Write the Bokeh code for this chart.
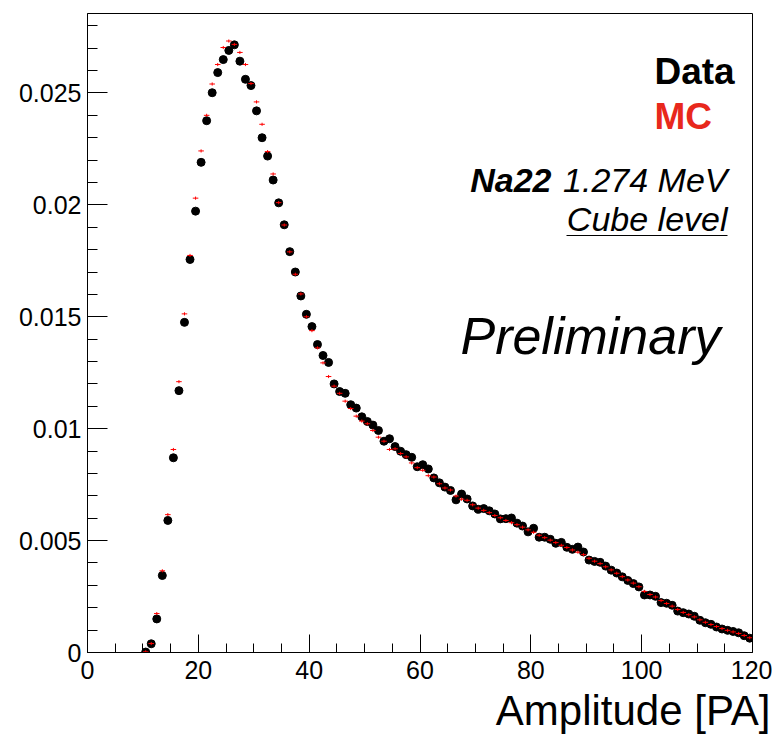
from bokeh.plotting import figure
from bokeh.models import FixedTicker, Label, Range1d, ColumnDataSource, Title
from bokeh.embed import file_html
from bokeh.resources import INLINE

# ---- data (bins of 1 PA, first bin starts at 10 PA) ----
bin_start = 10.0
bin_width = 1.0

data_y = [0.00002, 0.00039, 0.00150, 0.00344, 0.00590, 0.00870, 0.01170, 0.01475, 0.01756, 0.01972,
          0.02190, 0.02376, 0.02501, 0.02591, 0.02649, 0.02690, 0.02715, 0.02642, 0.02561, 0.02533,
          0.02420, 0.02300, 0.02218, 0.02111, 0.02009, 0.01911, 0.01791, 0.01700, 0.01593, 0.01511,
          0.01456, 0.01376, 0.01327, 0.01296, 0.01200, 0.01166, 0.01158, 0.01107, 0.01092, 0.01053,
          0.01032, 0.01016, 0.00992, 0.00944, 0.00955, 0.00920, 0.00899, 0.00884, 0.00872, 0.00830,
          0.00839, 0.00820, 0.00780, 0.00758, 0.00739, 0.00724, 0.00682, 0.00708, 0.00686, 0.00655,
          0.00640, 0.00643, 0.00633, 0.00619, 0.00597, 0.00598, 0.00601, 0.00578, 0.00565, 0.00539,
          0.00555, 0.00515, 0.00515, 0.00506, 0.00488, 0.00492, 0.00470, 0.00461, 0.00471, 0.00449,
          0.00413, 0.00407, 0.00403, 0.00386, 0.00368, 0.00355, 0.00338, 0.00322, 0.00308, 0.00293,
          0.00257, 0.00257, 0.00251, 0.00223, 0.00220, 0.00211, 0.00185, 0.00178, 0.00172, 0.00162,
          0.00144, 0.00133, 0.00126, 0.00114, 0.00105, 0.00099, 0.00094, 0.00088, 0.00075, 0.00064]

mc_y = [0.00003, 0.00040, 0.00174, 0.00365, 0.00616, 0.00907, 0.01210, 0.01513, 0.01774, 0.02030,
        0.02241, 0.02400, 0.02540, 0.02627, 0.02703, 0.02732, 0.02717, 0.02681, 0.02627, 0.02542,
        0.02460, 0.02360, 0.02238, 0.02138, 0.02010, 0.01910, 0.01790, 0.01690, 0.01602, 0.01500,
        0.01438, 0.01361, 0.01294, 0.01233, 0.01190, 0.01158, 0.01123, 0.01090, 0.01056, 0.01034,
        0.01022, 0.00992, 0.00962, 0.00944, 0.00907, 0.00910, 0.00889, 0.00874, 0.00847, 0.00826,
        0.00814, 0.00790, 0.00784, 0.00754, 0.00735, 0.00726, 0.00699, 0.00685, 0.00680, 0.00660,
        0.00645, 0.00635, 0.00625, 0.00612, 0.00602, 0.00590, 0.00580, 0.00571, 0.00560, 0.00548,
        0.00537, 0.00524, 0.00513, 0.00502, 0.00491, 0.00479, 0.00469, 0.00458, 0.00448, 0.00437,
        0.00421, 0.00408, 0.00397, 0.00383, 0.00369, 0.00354, 0.00339, 0.00324, 0.00310, 0.00294,
        0.00273, 0.00259, 0.00248, 0.00232, 0.00219, 0.00207, 0.00192, 0.00179, 0.00169, 0.00159,
        0.00146, 0.00135, 0.00125, 0.00116, 0.00107, 0.00099, 0.00092, 0.00085, 0.00076, 0.00066]
mc_err = 0.00007

x_ticks = [0, 20, 40, 60, 80, 100, 120]
x_minor = [v for v in range(0, 121, 5) if v % 20]
y_ticks = [0, 0.005, 0.01, 0.015, 0.02, 0.025]
y_tick_labels = ["0", "0.005", "0.01", "0.015", "0.02", "0.025"]
y_minor = [i / 1000 for i in range(0, 29) if i % 5]
x_title = "Amplitude [PA]"

X_START, X_END = 0, 120
Y_START, Y_END = 0, 0.02855

centers = [bin_start + bin_width * (i + 0.5) for i in range(len(data_y))]
x_lo = [c - bin_width / 2 for c in centers]
x_hi = [c + bin_width / 2 for c in centers]
mc_lo = [v - mc_err for v in mc_y]
mc_hi = [v + mc_err for v in mc_y]
src = ColumnDataSource(dict(x=centers, x_lo=x_lo, x_hi=x_hi, d=data_y, mc=mc_y, mc_lo=mc_lo, mc_hi=mc_hi))

FONT = "Liberation Sans"
W, H = 772, 736
B_LEFT, B_RIGHT, B_TOP, B_BOTTOM = 87, 20, 13, 84
FRAME_W = W - B_LEFT - B_RIGHT
FRAME_H = H - B_TOP - B_BOTTOM

p = figure(width=W, height=H, output_backend="svg", toolbar_location=None,
           x_range=Range1d(X_START, X_END), y_range=Range1d(Y_START, Y_END),
           min_border_left=B_LEFT, min_border_right=B_RIGHT,
           min_border_top=B_TOP, min_border_bottom=B_BOTTOM)
p.background_fill_color = "white"
p.border_fill_color = "white"
p.outline_line_color = "black"
p.outline_line_width = 1
p.grid.visible = False

for ax in (p.xaxis[0], p.yaxis[0]):
    ax.major_tick_out = 0
    ax.minor_tick_out = 0
    ax.axis_line_color = "black"
    ax.major_tick_line_color = "black"
    ax.minor_tick_line_color = "black"
    ax.major_label_text_font = FONT
    ax.major_label_text_font_size = "25px"
    ax.major_label_text_color = "black"

p.xaxis.ticker = FixedTicker(ticks=x_ticks, minor_ticks=x_minor)
p.xaxis.major_tick_in = 18
p.xaxis.minor_tick_in = 9
p.xaxis.major_label_standoff = 8

p.yaxis.ticker = FixedTicker(ticks=y_ticks, minor_ticks=y_minor)
p.yaxis.major_label_overrides = {t: l for t, l in zip(y_ticks, y_tick_labels)}
p.yaxis.major_tick_in = 20
p.yaxis.minor_tick_in = 10
p.yaxis.major_label_standoff = 6

# x-axis title, right aligned, in the panel below the axis
p.add_layout(Title(text=x_title, align="right", offset=-18, standoff=6,
                   text_font=FONT, text_font_size="42px", text_font_style="normal",
                   text_color="black"), "below")

# data points
p.scatter("x", "d", source=src, size=8, marker="circle", fill_color="black", line_color="black")
# MC: horizontal bin-width bars and small vertical errors
p.segment("x_lo", "mc", "x_hi", "mc", source=src, line_color="red", line_width=1)
p.segment("x", "mc_lo", "x", "mc_hi", source=src, line_color="red", line_width=1)


def add_label(text, x_off, base_from_top, size, style, color="black", align="right"):
    # base_from_top: distance in px of the text baseline below the frame top
    y_off = -base_from_top + 0.38 * size
    p.add_layout(Label(x=X_END, y=Y_END, x_offset=x_off, y_offset=y_off, text=text,
                       text_font=FONT, text_font_size=f"{size}px", text_font_style=style,
                       text_color=color, text_align=align, text_baseline="alphabetic"))


add_label("Data", -98, 72, 37, "bold", align="left")
add_label("MC", -98, 117, 37, "bold", color="#e8281c", align="left")
add_label("Na22", -201, 179, 34, "bold italic")
add_label("1.274 MeV", -25, 179, 34, "italic")
add_label("Cube level", -25, 218, 34, "italic")
add_label("Preliminary", -32, 342, 52, "italic")

# underline of "Cube level"
px_x = (X_END - X_START) / FRAME_W
px_y = (Y_END - Y_START) / FRAME_H
ul_x1 = X_END - 25 * px_x
ul_x0 = ul_x1 - 161 * px_x
ul_y = Y_END - 222 * px_y
p.segment(x0=[ul_x0], y0=[ul_y], x1=[ul_x1], y1=[ul_y], line_color="black", line_width=1.2)

open("out.html", "w").write(file_html(p, INLINE))
